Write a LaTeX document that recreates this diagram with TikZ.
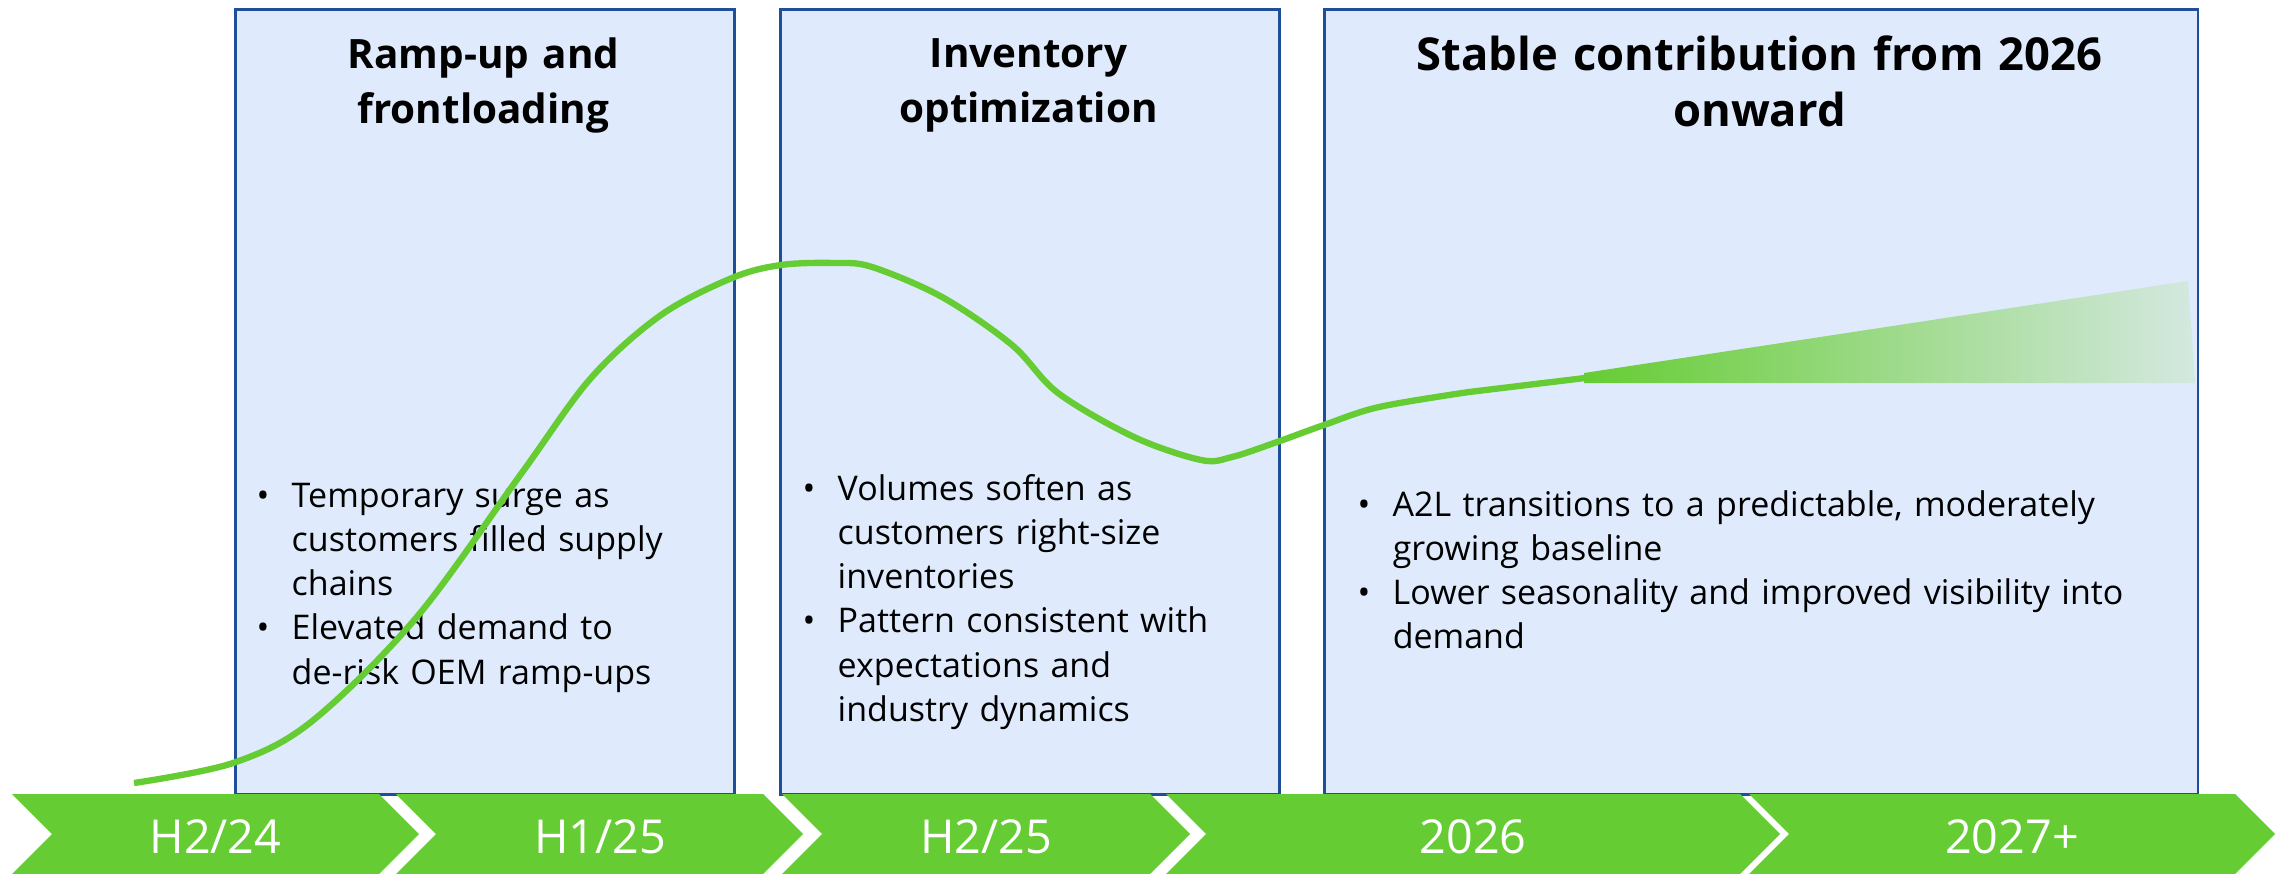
\documentclass[tikz,border=0pt]{standalone}
\usepackage{fontspec}
\setmainfont{Open Sans}
\usetikzlibrary{positioning}

\definecolor{phasefill}{RGB}{223,235,252}
\definecolor{phaseline}{RGB}{31,78,155}
\definecolor{trendgreen}{RGB}{102,204,51}
\definecolor{fadegreen}{RGB}{212,232,224}

\newlength{\bulletskip}
\setlength{\bulletskip}{0.35cm}
\newcommand{\pitem}[1]{\noindent\hangindent=\bulletskip\hangafter=1\makebox[\bulletskip][l]{\textbullet}#1\par}

\tikzset{
	phasebox/.style={draw=phaseline, fill=phasefill, line width=0.8pt, inner sep=0pt, anchor=north west},
	headline/.style={text width=#1, align=center, anchor=base, inner sep=0pt, font=\bfseries\fontsize{11.5pt}{15.6pt}\selectfont},
	bigheadline/.style={headline=#1, font=\bfseries\fontsize{12.9pt}{15.8pt}\selectfont},
	notes/.style={text width=#1, align=left, anchor=base west, inner sep=0pt, font=\fontsize{9.67pt}{12.6pt}\selectfont},
	period/.style={fill=trendgreen},
	periodlabel/.style={text=white, anchor=base, inner sep=0pt, font=\fontsize{13.3pt}{15pt}\selectfont},
	trend/.style={draw=trendgreen, line width=1.8pt}
}

\begin{document}
\begin{tikzpicture}[x=0.01cm, y=-0.01cm]
	\useasboundingbox (0,0) rectangle (2280,873);
	
	\node(ramp) [phasebox, minimum width=4.99cm, minimum height=7.85cm] at (234,8){};
	\node(inventory) [phasebox, minimum width=4.99cm, minimum height=7.85cm] at (779,8){};
	\node(stable) [phasebox, minimum width=8.73cm, minimum height=7.85cm] at (1323,8){};
	
	\node(ramptitle) [headline=4.9cm] at (483.5,69){Ramp-up and\\ frontloading};
	\node(invtitle) [headline=4.9cm] at (1028.5,68){Inventory\\ optimization};
	\node(stabletitle) [bigheadline=8.6cm] at (1759.5,71){Stable contribution from 2026\\ onward};
	
	\node(rampnotes) [notes=4.6cm] at (256,507){%
		\pitem{Temporary surge as\newline customers filled supply\newline chains}
		\pitem{Elevated demand to\newline de-risk OEM ramp-ups}};
	\node(invnotes) [notes=4.6cm] at (802,500){%
		\pitem{Volumes soften as\newline customers right-size\newline inventories}
		\pitem{Pattern consistent with\newline expectations and\newline industry dynamics}};
	\node(stablenotes) [notes=8.2cm] at (1357,516){%
		\pitem{A2L transitions to a predictable, moderately\newline growing baseline}
		\pitem{Lower seasonality and improved visibility into\newline demand}};
	
	% timeline chevrons
	\fill[period] (12,794) -- (379,794) -- (419,834) -- (379,874) -- (12,874) -- (52,834) -- cycle;
	\fill[period] (396,794) -- (763,794) -- (803,834) -- (763,874) -- (396,874) -- (436,834) -- cycle;
	\fill[period] (782,794) -- (1150,794) -- (1190,834) -- (1150,874) -- (782,874) -- (822,834) -- cycle;
	\fill[period] (1166,794) -- (1740,794) -- (1780,834) -- (1740,874) -- (1166,874) -- (1206,834) -- cycle;
	\fill[period] (1749,794) -- (2235,794) -- (2275,834) -- (2235,874) -- (1749,874) -- (1789,834) -- cycle;
	
	\node(h224) [periodlabel] at (215.5,853){H2/24};
	\node(h125) [periodlabel] at (600,853){H1/25};
	\node(h225) [periodlabel] at (986,853){H2/25};
	\node(y2026) [periodlabel] at (1473,853){2026};
	\node(y2027) [periodlabel] at (2012,853){2027+};
	
	% demand curve and fanning outlook
	\coordinate(flat) at (1585,378);
	\draw[trend] plot[smooth, tension=0.55] coordinates {(134,783) (233,763) (311,722) (416,618) (521,474) (591,378) (661,315) (732,278) (781,265) (835,263) (872,267) (942,297) (1012,345) (1058,393) (1134,437) (1201,460) (1232,457) (1277,442) (1324,425) (1379,407) (1469,392)} -- (flat);
	\shade[left color=trendgreen, right color=fadegreen] (1584,373) -- (2188,281) -- (2195,383) -- (1584,383) -- cycle;
	
\end{tikzpicture}
\end{document}
